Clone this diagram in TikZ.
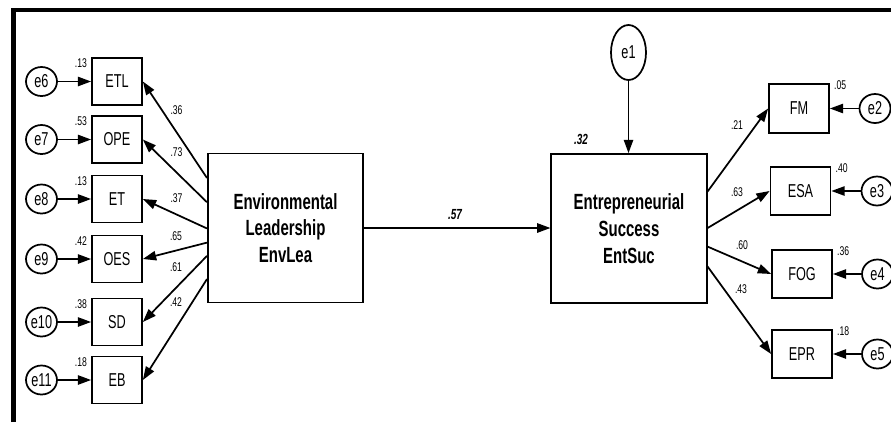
\documentclass[tikz,border=0pt]{standalone}
\usepackage{fontspec}
\setmainfont{Liberation Sans}[FakeStretch=0.68]
\usetikzlibrary{arrows.meta,shapes.geometric,calc}

\begin{document}
\begin{tikzpicture}[x=0.75pt,y=0.75pt,yscale=-1,xscale=1,
	obsbox/.style={draw,line width=1.3pt,minimum width=37.5pt,minimum height=35.25pt,inner sep=0pt,font=\fontsize{14}{14}\selectfont},
	obsboxr/.style={obsbox,minimum width=45pt,minimum height=36.5pt},
	latbox/.style={draw,line width=1.3pt,minimum width=116.5pt,minimum height=111.75pt,align=center,inner sep=0pt,font=\fontsize{16.5}{20}\selectfont\bfseries},
	errc/.style={draw,ellipse,line width=1.3pt,minimum width=23.25pt,minimum height=21.75pt,inner sep=0pt,font=\fontsize{14}{14}\selectfont},
	numlab/.style={inner sep=0pt,font=\fontsize{9.5}{9.5}\selectfont},
	pathlab/.style={inner sep=0pt,font=\fontsize{11}{11}\selectfont\bfseries\itshape},
	arr/.style={line width=1.3pt,-{Triangle[length=10pt,width=7pt]}}]
	\useasboundingbox (0,0) rectangle (891,422);
	% frame
	\draw [line width=3.2pt] (13.5,422) -- (13.5,10) -- (891,10) ;
	% latent variables
	\node [latbox] (envlea) at (285.5,228) {Environmental\\Leadership\\EnvLea};
	\node [latbox] (entsuc) at (629,228.5) {Entrepreneurial\\Success\\EntSuc};
	\node [errc,minimum width=26.25pt,minimum height=41.25pt] (e1) at (628.5,52.5) {e1};
	\draw [arr] (e1) -- (e1 |- entsuc.north) ;
	\draw [arr] (envlea.east) -- (envlea.east -| entsuc.west) ;
	\node [pathlab] (p57) at (455,215) {.57};
	\node [pathlab] (p32) at (581,139) {.32};
	% EnvLea indicators
	\node [obsbox] (etl) at (117,81.5) {ETL};
	\node [obsbox] (ope) at (117,139.5) {OPE};
	\node [obsbox] (et) at (117,199) {ET};
	\node [obsbox] (oes) at (117,259) {OES};
	\node [obsbox] (sd) at (117,322) {SD};
	\node [obsbox] (eb) at (117,380) {EB};
	\node [errc] (e6) at (41.5,81.5) {e6};
	\node [errc] (e7) at (41.5,139.5) {e7};
	\node [errc] (e8) at (41.5,199) {e8};
	\node [errc] (e9) at (41.5,259) {e9};
	\node [errc] (e10) at (41.5,322) {e10};
	\node [errc] (e11) at (41.5,380) {e11};
	\draw [arr] (e6) -- (etl) ;
	\draw [arr] (e7) -- (ope) ;
	\draw [arr] (e8) -- (et) ;
	\draw [arr] (e9) -- (oes) ;
	\draw [arr] (e10) -- (sd) ;
	\draw [arr] (e11) -- (eb) ;
	\draw [arr] ($(envlea.north west)!.168!(envlea.south west)$) -- (etl.east) ;
	\draw [arr] ($(envlea.north west)!.329!(envlea.south west)$) -- (ope.east) ;
	\draw [arr] ($(envlea.north west)!.503!(envlea.south west)$) -- (et.east) ;
	\draw [arr] ($(envlea.north west)!.597!(envlea.south west)$) -- (oes.east) ;
	\draw [arr] ($(envlea.north west)!.685!(envlea.south west)$) -- (sd.east) ;
	\draw [arr] ($(envlea.north west)!.839!(envlea.south west)$) -- (eb.east) ;
	\node [numlab] (l36) at (176.5,110) {.36};
	\node [numlab] (l73) at (176.5,152.5) {.73};
	\node [numlab] (l37) at (176.5,198) {.37};
	\node [numlab] (l65) at (176,236) {.65};
	\node [numlab] (l61) at (176,267) {.61};
	\node [numlab] (l42) at (176,302) {.42};
	\node [numlab,anchor=east] (r-etl) at ([shift={(-4,6)}]etl.north west) {.13};
	\node [numlab,anchor=east] (r-ope) at ([shift={(-4,6)}]ope.north west) {.53};
	\node [numlab,anchor=east] (r-et) at ([shift={(-4,6)}]et.north west) {.13};
	\node [numlab,anchor=east] (r-oes) at ([shift={(-4,6)}]oes.north west) {.42};
	\node [numlab,anchor=east] (r-sd) at ([shift={(-4,6)}]sd.north west) {.38};
	\node [numlab,anchor=east] (r-eb) at ([shift={(-4,6)}]eb.north west) {.18};
	% EntSuc indicators
	\node [obsboxr] (fm) at (799,108.5) {FM};
	\node [obsboxr] (esa) at (800.5,191) {ESA};
	\node [obsboxr] (fog) at (802,274) {FOG};
	\node [obsboxr] (epr) at (802,354) {EPR};
	\node [errc] (e2) at (875,108.5) {e2};
	\node [errc] (e3) at (877,191) {e3};
	\node [errc] (e4) at (877.5,274) {e4};
	\node [errc] (e5) at (877.5,354) {e5};
	\draw [arr] (e2) -- (fm) ;
	\draw [arr] (e3) -- (esa) ;
	\draw [arr] (e4) -- (fog) ;
	\draw [arr] (e5) -- (epr) ;
	\draw [arr] ($(entsuc.north east)!.255!(entsuc.south east)$) -- (fm.west) ;
	\draw [arr] ($(entsuc.north east)!.497!(entsuc.south east)$) -- (esa.west) ;
	\draw [arr] ($(entsuc.north east)!.62!(entsuc.south east)$) -- (fog.west) ;
	\draw [arr] ($(entsuc.north east)!.752!(entsuc.south east)$) -- (epr.west) ;
	\node [numlab] (l21) at (737,125) {.21};
	\node [numlab] (l63) at (737,192) {.63};
	\node [numlab] (l60) at (742,245) {.60};
	\node [numlab] (l43) at (741,289) {.43};
	\node [numlab,anchor=west] (r-fm) at ([shift={(4,2)}]fm.north east) {.05};
	\node [numlab,anchor=west] (r-esa) at ([shift={(4,2)}]esa.north east) {.40};
	\node [numlab,anchor=west] (r-fog) at ([shift={(4,2)}]fog.north east) {.36};
	\node [numlab,anchor=west] (r-epr) at ([shift={(4,2)}]epr.north east) {.18};
\end{tikzpicture}
\end{document}
